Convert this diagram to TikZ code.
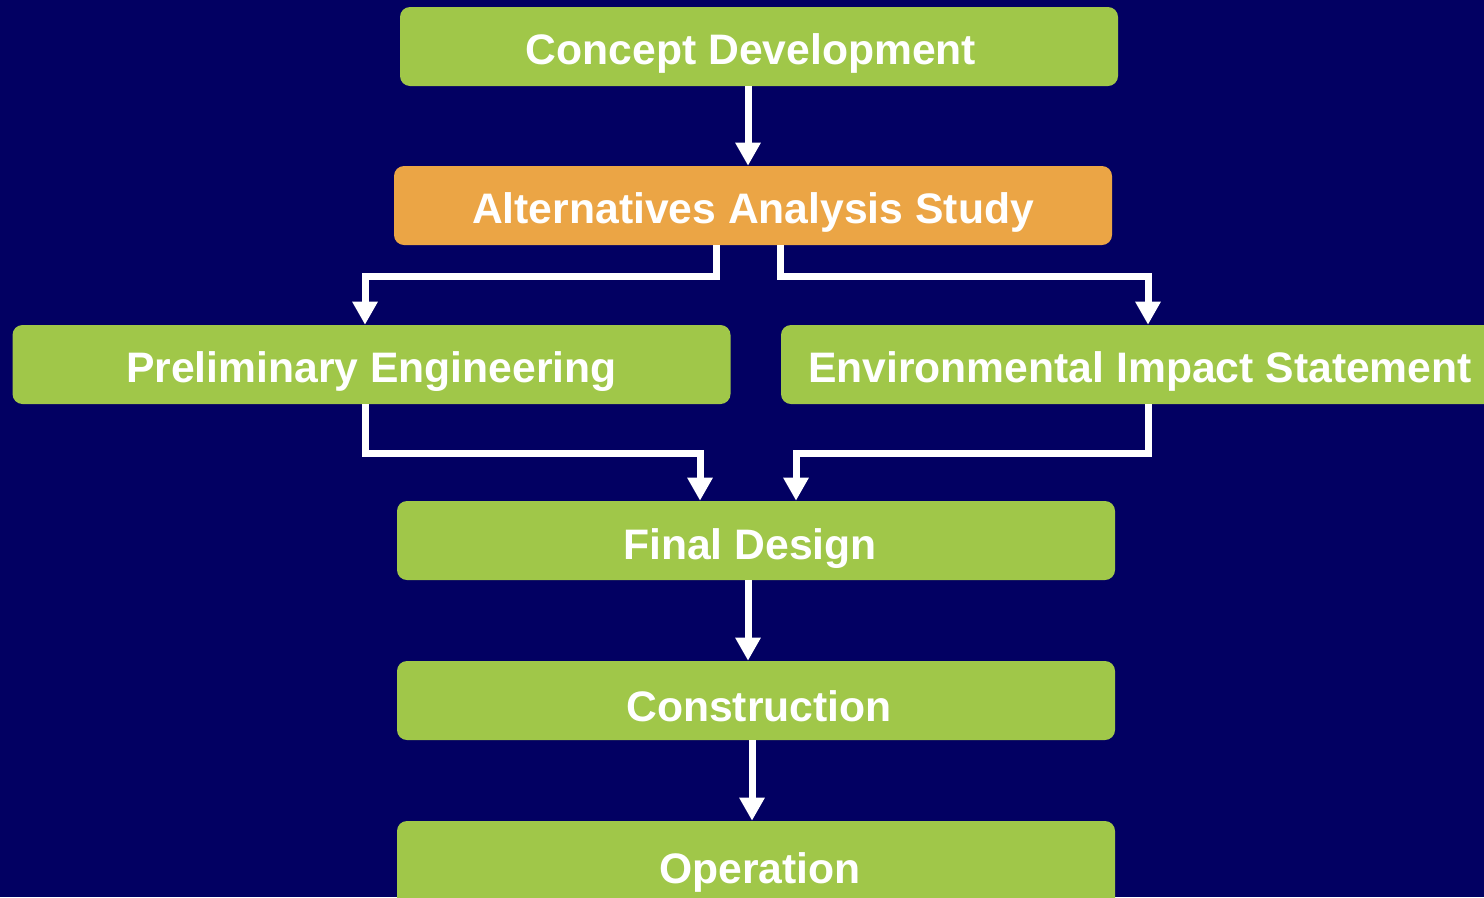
\documentclass[tikz,border=0pt]{standalone}
\usepackage{fontspec}
\setmainfont{Liberation Sans}
\usetikzlibrary{arrows.meta}
\definecolor{bg}{RGB}{2,0,98}
\definecolor{gbox}{RGB}{160,199,73}
\definecolor{obox}{RGB}{235,165,69}
\newcommand\tshift[3]{\raisebox{#2}[\height][\depth]{\kern#1\relax #3\kern-#1\relax}}
\begin{document}
\begin{tikzpicture}[x=0.75pt,y=-0.75pt,
  stagebox/.style={fill=gbox,draw=none,rounded corners=7.5pt,minimum width=538.5pt,minimum height=59.25pt,
    text=white,font=\fontsize{32}{36}\selectfont\bfseries,inner sep=0pt},
  arr/.style={draw=white,line width=5.25pt,line join=miter,-{Triangle[width=18pt,length=17.25pt]}}]
\fill[bg] (0,0) rectangle (1484,897);
\useasboundingbox (0,0) rectangle (1484,897);
\node[stagebox] (cd) at (759,46.5) {\tshift{-6pt}{-5pt}{Concept Development}};
\node[stagebox,fill=obox] (alt) at (753,205.5) {\tshift{0pt}{-5.5pt}{Alternatives Analysis Study}};
\node[stagebox] (prelim) at (371.5,364.5) {\tshift{0pt}{-5.5pt}{Preliminary Engineering}};
\node[stagebox] (eis) at (1140,364.5) {\tshift{0pt}{-5.5pt}{Environmental Impact Statement}};
\node[stagebox] (fd) at (756,540.5) {\tshift{-4.5pt}{-6pt}{Final Design}};
\node[stagebox] (con) at (756,700.5) {\tshift{2.25pt}{-4pt}{Construction}};
\node[stagebox,minimum height=70.5pt] (op) at (756,868) {\tshift{3pt}{-3pt}{Operation}};
\coordinate (xa) at (748,0);
\coordinate (xl) at (716,0);
\coordinate (xr) at (780,0);
\coordinate (xp) at (365,0);
\coordinate (xe) at (1148,0);
\coordinate (xf1) at (700,0);
\coordinate (xf2) at (796,0);
\coordinate (xo) at (752,0);
\coordinate (y1) at (0,276);
\coordinate (y2) at (0,453);
\draw[arr] (cd.south -| xa) -- (alt.north -| xa);
\draw[arr] (alt.south -| xl) -- (xl |- y1) -- (xp |- y1) -- (prelim.north -| xp);
\draw[arr] (alt.south -| xr) -- (xr |- y1) -- (xe |- y1) -- (eis.north -| xe);
\draw[arr] (prelim.south -| xp) -- (xp |- y2) -- (xf1 |- y2) -- (fd.north -| xf1);
\draw[arr] (eis.south -| xe) -- (xe |- y2) -- (xf2 |- y2) -- (fd.north -| xf2);
\draw[arr] (fd.south -| xa) -- (con.north -| xa);
\draw[arr] (con.south -| xo) -- (op.north -| xo);
\end{tikzpicture}
\end{document}
